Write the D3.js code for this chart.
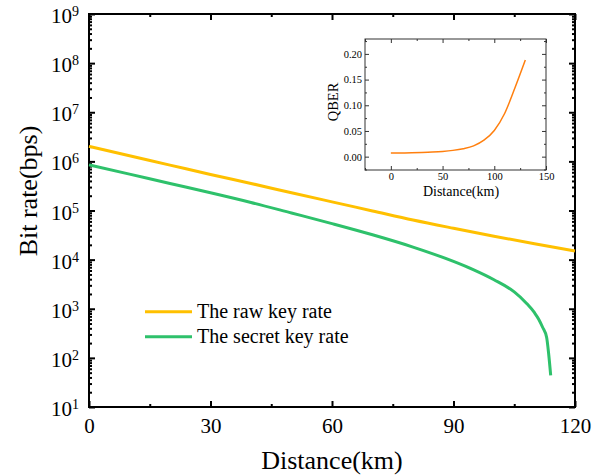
<!DOCTYPE html>
<html>
<head>
<meta charset="utf-8">
<script src="https://cdn.jsdelivr.net/npm/d3@7"></script>
<style>
  body { margin: 0; background: #fff; }
  text { font-family: "Liberation Serif", "Times New Roman", serif; fill: #000; }
</style>
</head>
<body>
<script>
// Raw key rate (bps) vs distance (km)
const rawDistance = [0, 10, 20, 30, 40, 50, 60, 70, 80, 90, 100, 110, 120];
const rawRate = [2.02e6, 1.3e6, 8.4e5, 5.4e5, 3.55e5, 2.3e5, 1.5e5, 9.8e4, 6.4e4, 4.35e4, 3.0e4, 2.1e4, 1.5e4];

// Secret key rate (bps) vs distance (km)
const secretDistance = [0, 10, 20, 30, 40, 50, 60, 70, 80, 90, 95, 100, 105, 108, 110, 111, 112, 113, 113.5, 114];
const secretRate = [8.5e5, 5.5e5, 3.55e5, 2.3e5, 1.46e5, 8.9e4, 5.4e4, 3.2e4, 1.8e4, 9.2e3, 6.2e3, 3.9e3, 2.2e3, 1.3e3, 830, 620, 420, 260, 120, 44];

// Inset: QBER vs distance
const qberDistance = [0, 10, 20, 30, 40, 50, 60, 70, 80, 90, 100, 110, 120, 130];
const qberValue = [0.007, 0.0072, 0.0076, 0.0082, 0.009, 0.0102, 0.0122, 0.0155, 0.021, 0.032, 0.051, 0.084, 0.134, 0.188];

// Axis ticks
const xTicks = [0, 30, 60, 90, 120];
const xMinorTicks = [15, 45, 75, 105];
const yExponents = [1, 2, 3, 4, 5, 6, 7, 8, 9];
const insetXTicks = [0, 50, 100, 150];
const insetXMinor = [-25, 25, 75, 125];
const insetYTicks = [0, 0.05, 0.1, 0.15, 0.2];
const insetYMinor = [-0.025, 0.025, 0.075, 0.125, 0.175, 0.225];

const legendLabels = ['The raw key rate', 'The secret key rate'];
const colors = ['#FFC000', '#2EC16B'];
const qberColor = '#FF7F0E';

const w = 616;
const h = 476;

const svg = d3
  .select('body')
  .append('svg')
  .attr('width', w)
  .attr('height', h);

// Main scales
const xScale = d3.scaleLinear().domain([0, 120]).range([89, 575]);
const yScale = d3.scaleLog().domain([10, 1e9]).range([407, 14]);

const yMajor = yExponents.map(e => Math.pow(10, e));
const yMinor = [];
yExponents.slice(0, -1).forEach(e => {
  for (let m = 2; m <= 9; m++) yMinor.push(m * Math.pow(10, e));
});

// Tick helper: draws an axis with no domain line
const drawTicks = (g, axis) => {
  g.call(axis);
  g.select('.domain').remove();
  g.selectAll('.tick line').attr('stroke', '#000').attr('stroke-width', 2);
};

const [x0, x1] = xScale.range();
const [y0, y1] = yScale.range();

// Bottom axis with labels
const bottom = svg.append('g').attr('transform', `translate(0,${y0})`);
drawTicks(
  bottom,
  d3.axisBottom(xScale).tickValues(xTicks).tickSizeInner(-6).tickSizeOuter(0).tickPadding(11.5)
);
bottom.selectAll('.tick text').attr('font-size', 21).attr('font-family', null);
drawTicks(
  svg.append('g').attr('transform', `translate(0,${y0})`),
  d3.axisBottom(xScale).tickValues(xMinorTicks).tickSizeInner(-3).tickSizeOuter(0).tickFormat('')
);

// Top mirrored ticks
drawTicks(
  svg.append('g').attr('transform', `translate(0,${y1})`),
  d3.axisTop(xScale).tickValues(xTicks).tickSizeInner(-6).tickSizeOuter(0).tickFormat('')
);
drawTicks(
  svg.append('g').attr('transform', `translate(0,${y1})`),
  d3.axisTop(xScale).tickValues(xMinorTicks).tickSizeInner(-3).tickSizeOuter(0).tickFormat('')
);

// Left and right ticks
[[x0, d3.axisLeft], [x1, d3.axisRight]].forEach(([xPos, axisFn]) => {
  drawTicks(
    svg.append('g').attr('transform', `translate(${xPos},0)`),
    axisFn(yScale).tickValues(yMajor).tickSizeInner(-6).tickSizeOuter(0).tickFormat('')
  );
  drawTicks(
    svg.append('g').attr('transform', `translate(${xPos},0)`),
    axisFn(yScale).tickValues(yMinor).tickSizeInner(-3).tickSizeOuter(0).tickFormat('')
  );
});

// Power-of-ten labels
const yLabels = svg
  .append('g')
  .selectAll('text')
  .data(yExponents)
  .enter()
  .append('text')
  .attr('x', 79)
  .attr('y', d => yScale(Math.pow(10, d)) + 9)
  .attr('text-anchor', 'end')
  .attr('font-size', 21);
yLabels.append('tspan').text('10');
yLabels
  .append('tspan')
  .attr('font-size', 14)
  .attr('dy', -7)
  .text(d => d);

// Frame
svg
  .append('rect')
  .attr('x', x0)
  .attr('y', y1)
  .attr('width', x1 - x0)
  .attr('height', y0 - y1)
  .attr('fill', 'none')
  .attr('stroke', '#000')
  .attr('stroke-width', 2);

// Lines
const line = d3
  .line()
  .x(d => xScale(d[0]))
  .y(d => yScale(d[1]))
  .curve(d3.curveMonotoneX);

const series = [
  d3.zip(rawDistance, rawRate),
  d3.zip(secretDistance, secretRate)
];

svg
  .selectAll('path.series')
  .data(series)
  .enter()
  .append('path')
  .attr('class', 'series')
  .attr('d', line)
  .attr('fill', 'none')
  .attr('stroke', (d, i) => colors[i])
  .attr('stroke-width', 3);

// Axis titles
svg
  .append('text')
  .attr('x', 332)
  .attr('y', 469)
  .attr('text-anchor', 'middle')
  .attr('font-size', 26)
  .text('Distance(km)');

svg
  .append('text')
  .attr('transform', 'translate(37,191) rotate(-90)')
  .attr('text-anchor', 'middle')
  .attr('font-size', 26)
  .text('Bit rate(bps)');

// Legend
const legend = svg
  .append('g')
  .selectAll('g')
  .data(legendLabels)
  .enter()
  .append('g')
  .attr('transform', (d, i) => `translate(145,${311.7 + i * 25})`);

legend
  .append('line')
  .attr('x1', 0)
  .attr('x2', 47)
  .attr('stroke', (d, i) => colors[i])
  .attr('stroke-width', 3);

legend
  .append('text')
  .attr('x', 52)
  .attr('y', 6.6)
  .attr('font-size', 20)
  .text(d => d);

// Inset
const ix = d3.scaleLinear().domain([-25, 150]).range([365, 546]);
const iy = d3.scaleLinear().domain([-0.026, 0.229]).range([170, 39]);
const [ix0, ix1] = ix.range();
const [iy0, iy1] = iy.range();

const inset = svg.append('g');

inset
  .append('rect')
  .attr('x', ix0)
  .attr('y', iy1)
  .attr('width', ix1 - ix0)
  .attr('height', iy0 - iy1)
  .attr('fill', '#fff');

const drawInsetTicks = (g, axis) => {
  g.call(axis);
  g.select('.domain').remove();
  g.selectAll('.tick line').attr('stroke', '#333').attr('stroke-width', 1);
  g.selectAll('.tick text').attr('font-size', 10.5).attr('font-family', null).attr('fill', '#000');
};

drawInsetTicks(
  inset.append('g').attr('transform', `translate(0,${iy0})`),
  d3.axisBottom(ix).tickValues(insetXTicks).tickSizeInner(-4).tickSizeOuter(0).tickPadding(3).tickFormat(d3.format('d'))
);
drawInsetTicks(
  inset.append('g').attr('transform', `translate(0,${iy0})`),
  d3.axisBottom(ix).tickValues(insetXMinor).tickSizeInner(-2).tickSizeOuter(0).tickFormat('')
);
drawInsetTicks(
  inset.append('g').attr('transform', `translate(0,${iy1})`),
  d3.axisTop(ix).tickValues(insetXTicks).tickSizeInner(-4).tickSizeOuter(0).tickFormat('')
);
drawInsetTicks(
  inset.append('g').attr('transform', `translate(0,${iy1})`),
  d3.axisTop(ix).tickValues(insetXMinor).tickSizeInner(-2).tickSizeOuter(0).tickFormat('')
);
drawInsetTicks(
  inset.append('g').attr('transform', `translate(${ix0},0)`),
  d3.axisLeft(iy).tickValues(insetYTicks).tickSizeInner(-4).tickSizeOuter(0).tickPadding(3).tickFormat(d3.format('.2f'))
);
drawInsetTicks(
  inset.append('g').attr('transform', `translate(${ix0},0)`),
  d3.axisLeft(iy).tickValues(insetYMinor).tickSizeInner(-2).tickSizeOuter(0).tickFormat('')
);
drawInsetTicks(
  inset.append('g').attr('transform', `translate(${ix1},0)`),
  d3.axisRight(iy).tickValues(insetYTicks).tickSizeInner(-4).tickSizeOuter(0).tickFormat('')
);
drawInsetTicks(
  inset.append('g').attr('transform', `translate(${ix1},0)`),
  d3.axisRight(iy).tickValues(insetYMinor).tickSizeInner(-2).tickSizeOuter(0).tickFormat('')
);

inset
  .append('rect')
  .attr('x', ix0)
  .attr('y', iy1)
  .attr('width', ix1 - ix0)
  .attr('height', iy0 - iy1)
  .attr('fill', 'none')
  .attr('stroke', '#333')
  .attr('stroke-width', 1);

inset
  .append('path')
  .datum(d3.zip(qberDistance, qberValue))
  .attr(
    'd',
    d3
      .line()
      .x(d => ix(d[0]))
      .y(d => iy(d[1]))
      .curve(d3.curveMonotoneX)
  )
  .attr('fill', 'none')
  .attr('stroke', qberColor)
  .attr('stroke-width', 1.5);

inset
  .append('text')
  .attr('x', 461)
  .attr('y', 196)
  .attr('text-anchor', 'middle')
  .attr('font-size', 14)
  .text('Distance(km)');

inset
  .append('text')
  .attr('transform', 'translate(338,102) rotate(-90)')
  .attr('text-anchor', 'middle')
  .attr('font-size', 14.5)
  .text('QBER');
</script>
</body>
</html>
